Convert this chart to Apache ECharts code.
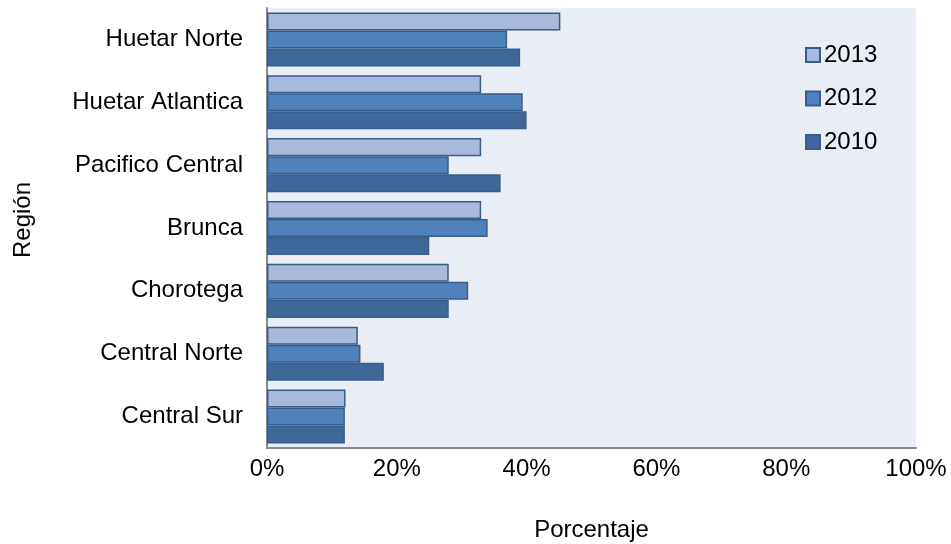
<!DOCTYPE html>
<html><head><meta charset="utf-8">
<script src="https://cdn.jsdelivr.net/npm/echarts@6/dist/echarts.min.js"></script>
<style>html,body{margin:0;padding:0;background:#fff}#c{width:951px;height:544px}</style>
</head><body><div id="c"></div>
<script>
const categories = ['Huetar Norte','Huetar Atlantica','Pacifico Central','Brunca','Chorotega','Central Norte','Central Sur'];
const seriesNames = ['2013','2012','2010'];
const v2013 = [45.2, 33.0, 33.0, 33.0, 28.0, 14.0, 12.1];
const v2012 = [37.0, 39.4, 28.0, 34.0, 31.0, 14.4, 12.0];
const v2010 = [39.0, 40.0, 36.0, 25.0, 28.0, 18.0, 12.0];
const xTicks = [0, 20, 40, 60, 80, 100];
const colors = ['#A9B9D9', '#4F81BD', '#3E6899'];
const values = [v2013, v2012, v2010];
const font = 'Liberation Sans, Arial, sans-serif';
const chart = echarts.init(document.getElementById('c'));
chart.setOption({
  animation: false,
  textStyle: {fontFamily: font},
  grid: {left: 267, right: 35, top: 8, bottom: 96, show: true, backgroundColor: '#E9EDF5', borderWidth: 0,
    containLabel: false, outerBoundsMode: 'none'},
  legend: {
    orient: 'vertical', left: 800, top: 38, itemWidth: 14, itemHeight: 14, itemGap: 19.5,
    icon: 'rect',
    data: seriesNames,
    textStyle: {fontSize: 24, color: '#000', fontFamily: font, padding: [0,0,0,-1]}
  },
  xAxis: {
    type: 'value', min: 0, max: 100, interval: 20,
    name: 'Porcentaje', nameLocation: 'middle', nameGap: 70,
    nameTextStyle: {fontSize: 24, color: '#000', fontFamily: font},
    axisLine: {show: true, lineStyle: {color: '#898989', width: 2}},
    axisTick: {show: false},
    splitLine: {show: false},
    axisLabel: {fontSize: 24, color: '#000', margin: 9, fontFamily: font,
      formatter: v => xTicks.indexOf(v) >= 0 ? v + '%' : ''}
  },
  yAxis: {
    type: 'category', inverse: true, data: categories,
    name: 'Región', nameLocation: 'middle', nameGap: 232, nameRotate: 90,
    nameTextStyle: {fontSize: 24, color: '#000', fontFamily: font, padding: [0, 0, 0, 16]},
    axisLine: {show: true, lineStyle: {color: '#898989', width: 2}},
    axisTick: {show: false},
    axisLabel: {fontSize: 24, color: '#000', margin: 24, fontFamily: font}
  },
  series: seriesNames.map((n, i) => ({
    name: n, type: 'bar', data: values[i],
    barGap: '0%', barCategoryGap: '14%',
    itemStyle: {color: colors[i], borderColor: '#385D8A', borderWidth: 1.5}
  }))
});
</script></body></html>
